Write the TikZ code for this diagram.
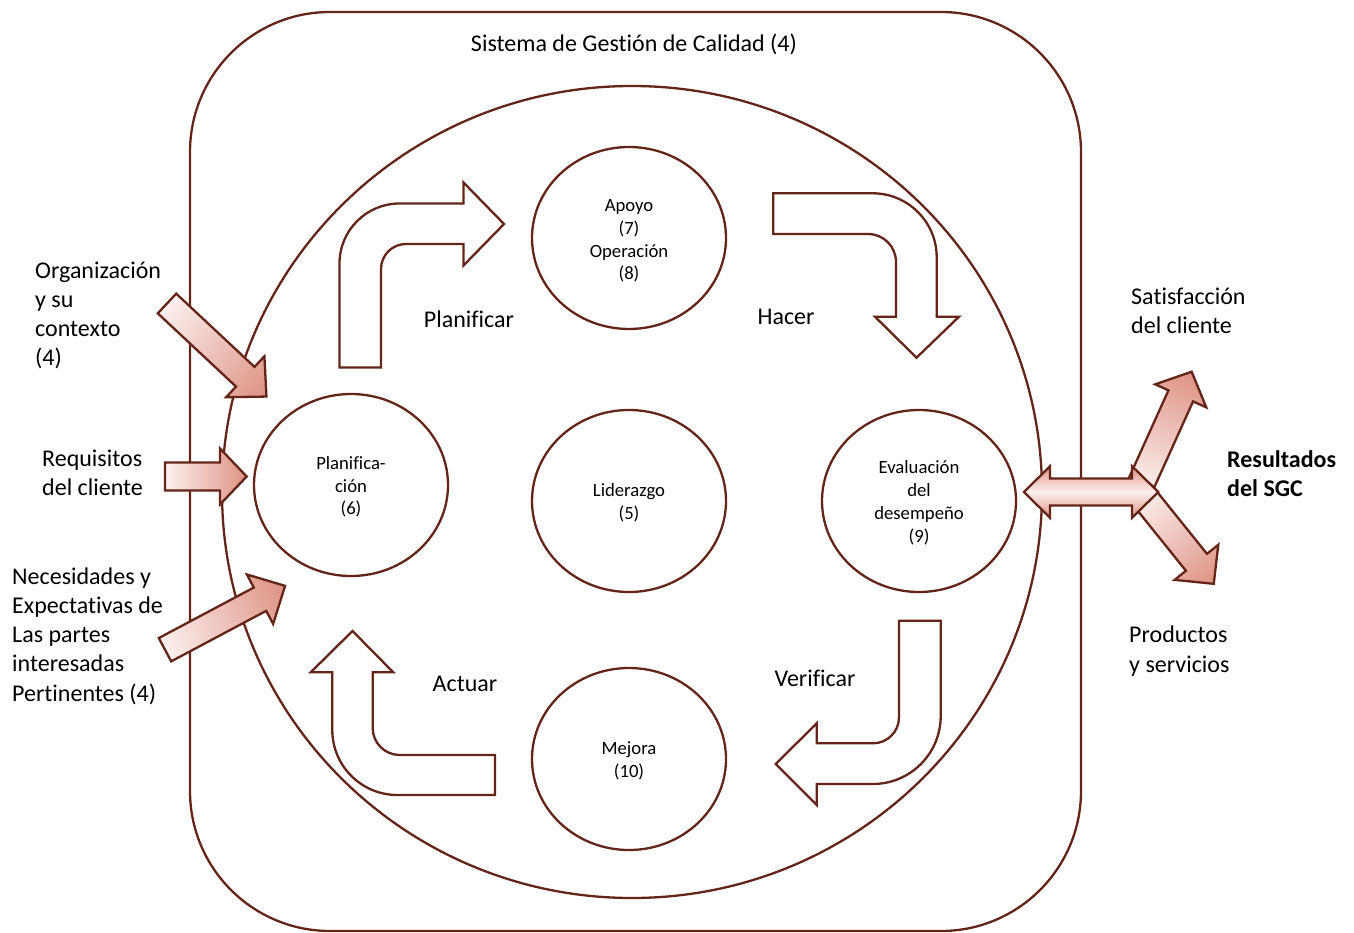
\documentclass[tikz,border=0pt]{standalone}
\usepackage{fontspec}
\setmainfont{Carlito}[Ligatures={NoCommon}]
\usetikzlibrary{shapes.geometric}
\definecolor{brd}{RGB}{100,36,24}
\definecolor{salm}{RGB}{222,146,132}
\definecolor{lightp}{RGB}{252,240,238}
\tikzset{
  ln/.style={draw=brd,line width=2.3pt},
  bentarrow/.style={ln,fill=white},
  circ/.style={ellipse,ln,fill=white,minimum width=194pt,minimum height=182pt,inner sep=0pt},
  circtext/.style={inner sep=0pt,align=center,font=\fontsize{18.7}{22.8}\selectfont},
  lbl/.style={inner sep=0pt,align=left,font=\fontsize{24}{29.2}\selectfont},
  phase/.style={inner sep=0pt,font=\fontsize{24}{29.2}\selectfont},
  blockfill/.style={ln,left color=lightp,right color=salm}
}
% #1 tail point, #2 angle, #3 length, #4 shaft width, #5 head width, #6 head length
\newcommand{\blockarr}[6]{%
  \begin{scope}[transform canvas={shift={(#1)},rotate=#2}]
    \shade[blockfill] (0,{-#4/2}) -- ({#3-#6},{-#4/2}) -- ({#3-#6},{-#5/2}) -- (#3,0)
      -- ({#3-#6},{#5/2}) -- ({#3-#6},{#4/2}) -- (0,{#4/2}) -- cycle;
  \end{scope}}
\begin{document}
\begin{tikzpicture}[x=1pt,y=-1pt]
\useasboundingbox (0,0) rectangle (1354,933);
% outer system box and inner ellipse
\draw[ln,rounded corners=140pt] (190,12) rectangle (1081,931);
\draw[ln] (632,492) ellipse [x radius=410, y radius=406];
\node[phase] (title) at (634,44) {Sistema de Gestión de Calidad (4)};
% process circles
\node[circ] (apoyo) at (629,238) {};
\node[circ] (plan) at (351,485) {};
\node[circ] (lid) at (629,501) {};
\node[circ] (eval) at (919,501) {};
\node[circ] (mejora) at (629,759) {};
\node[circtext] (apoyot) at ([yshift=-3pt]apoyo.center) {Apoyo\\(7)\\Operación\\(8)};
\node[circtext] (plant) at ([yshift=-2pt]plan.center) {Planifica-\\ción\\(6)};
\node[circtext] (lidt) at ([yshift=-2pt]lid.center) {Liderazgo\\(5)};
\node[circtext] (evalt) at ([yshift=-2pt]eval.center) {Evaluación\\del\\desempeño\\(9)};
\node[circtext] (mejorat) at ([yshift=-2pt]mejora.center) {Mejora\\(10)};
% bent PDCA arrows
\draw[bentarrow] (339.5,367.5) -- (339.5,263.5) .. controls (339.5,230.4) and (366.4,203.5) .. (399.5,203.5)
  -- (463.5,203.5) -- (463.5,182.5) -- (504,224) -- (463.5,265.5) -- (463.5,244) -- (406,244)
  .. controls (392.2,244) and (381,255.2) .. (381,269) -- (381,367.5) -- cycle;
\draw[bentarrow] (773.3,193.3) -- (872.7,193.3) .. controls (908,193.3) and (936.7,222) .. (936.7,257.3)
  -- (936.7,316.7) -- (959,316.7) -- (916.5,357.7) -- (875,316.7) -- (896,316.7) -- (896,262)
  .. controls (896,246.5) and (883.5,234) .. (868,234) -- (773.3,234) -- cycle;
\draw[bentarrow] (899,620.7) -- (940.7,620.7) -- (940.7,716) .. controls (940.7,753.6) and (910.3,784) .. (872.7,784)
  -- (816.7,784) -- (816.7,805) -- (775.7,764) -- (816.7,723.3) -- (816.7,743.3) -- (873,743.3)
  .. controls (887.4,743.3) and (899,731.7) .. (899,717.3) -- cycle;
\draw[bentarrow] (495,755) -- (495,795) -- (397.3,795) .. controls (361.4,795) and (332.3,765.9) .. (332.3,730)
  -- (332.3,672.3) -- (310.7,672.3) -- (352.5,631) -- (393.3,672.3) -- (372.7,672.3) -- (372.7,728)
  .. controls (372.7,742.9) and (384.8,755) .. (399.7,755) -- cycle;
\node[phase] (planificar) at (469,319) {Planificar};
\node[phase] (hacer) at (786,317) {Hacer};
\node[phase] (verificar) at (815,678) {Verificar};
\node[phase] (actuar) at (465,684) {Actuar};
% input arrows
\blockarr{167,303.5}{-43.1}{136.2}{27}{56}{29}
\blockarr{165,476.5}{0}{81.7}{28}{56}{26.7}
\blockarr{165,649.7}{28}{136}{26.4}{56}{28.4}
% output arrows
\blockarr{1139.6,487}{65.7}{126.5}{27}{56}{26.5}
\blockarr{1142,494.6}{-51.2}{114.5}{27}{56}{27.6}
\shade[ln,top color=salm,bottom color=salm,middle color=lightp]
  (1024,492) -- (1050,466.2) -- (1050,478.5) -- (1132,478.5) -- (1132,466.2) -- (1158.3,492)
  -- (1132,517.8) -- (1132,505.5) -- (1050,505.5) -- (1050,517.8) -- cycle;
% side labels
\node[lbl,anchor=west] (org) at (35,315.5) {Organización\\y su\\contexto\\(4)};
\node[lbl,anchor=west] (req) at (42,473) {Requisitos\\del cliente};
\node[lbl,anchor=west] (nec) at (12,636) {Necesidades y\\Expectativas de\\Las partes\\interesadas\\Pertinentes (4)};
\node[lbl,anchor=west] (sat) at (1131,311) {Satisfacción\\del cliente};
\node[lbl,anchor=west,font=\fontsize{24}{29.2}\selectfont\bfseries] (res) at (1227,473.5) {Resultados\\del SGC};
\node[lbl,anchor=west] (prod) at (1129,651) {Productos\\y servicios};
\end{tikzpicture}
\end{document}
